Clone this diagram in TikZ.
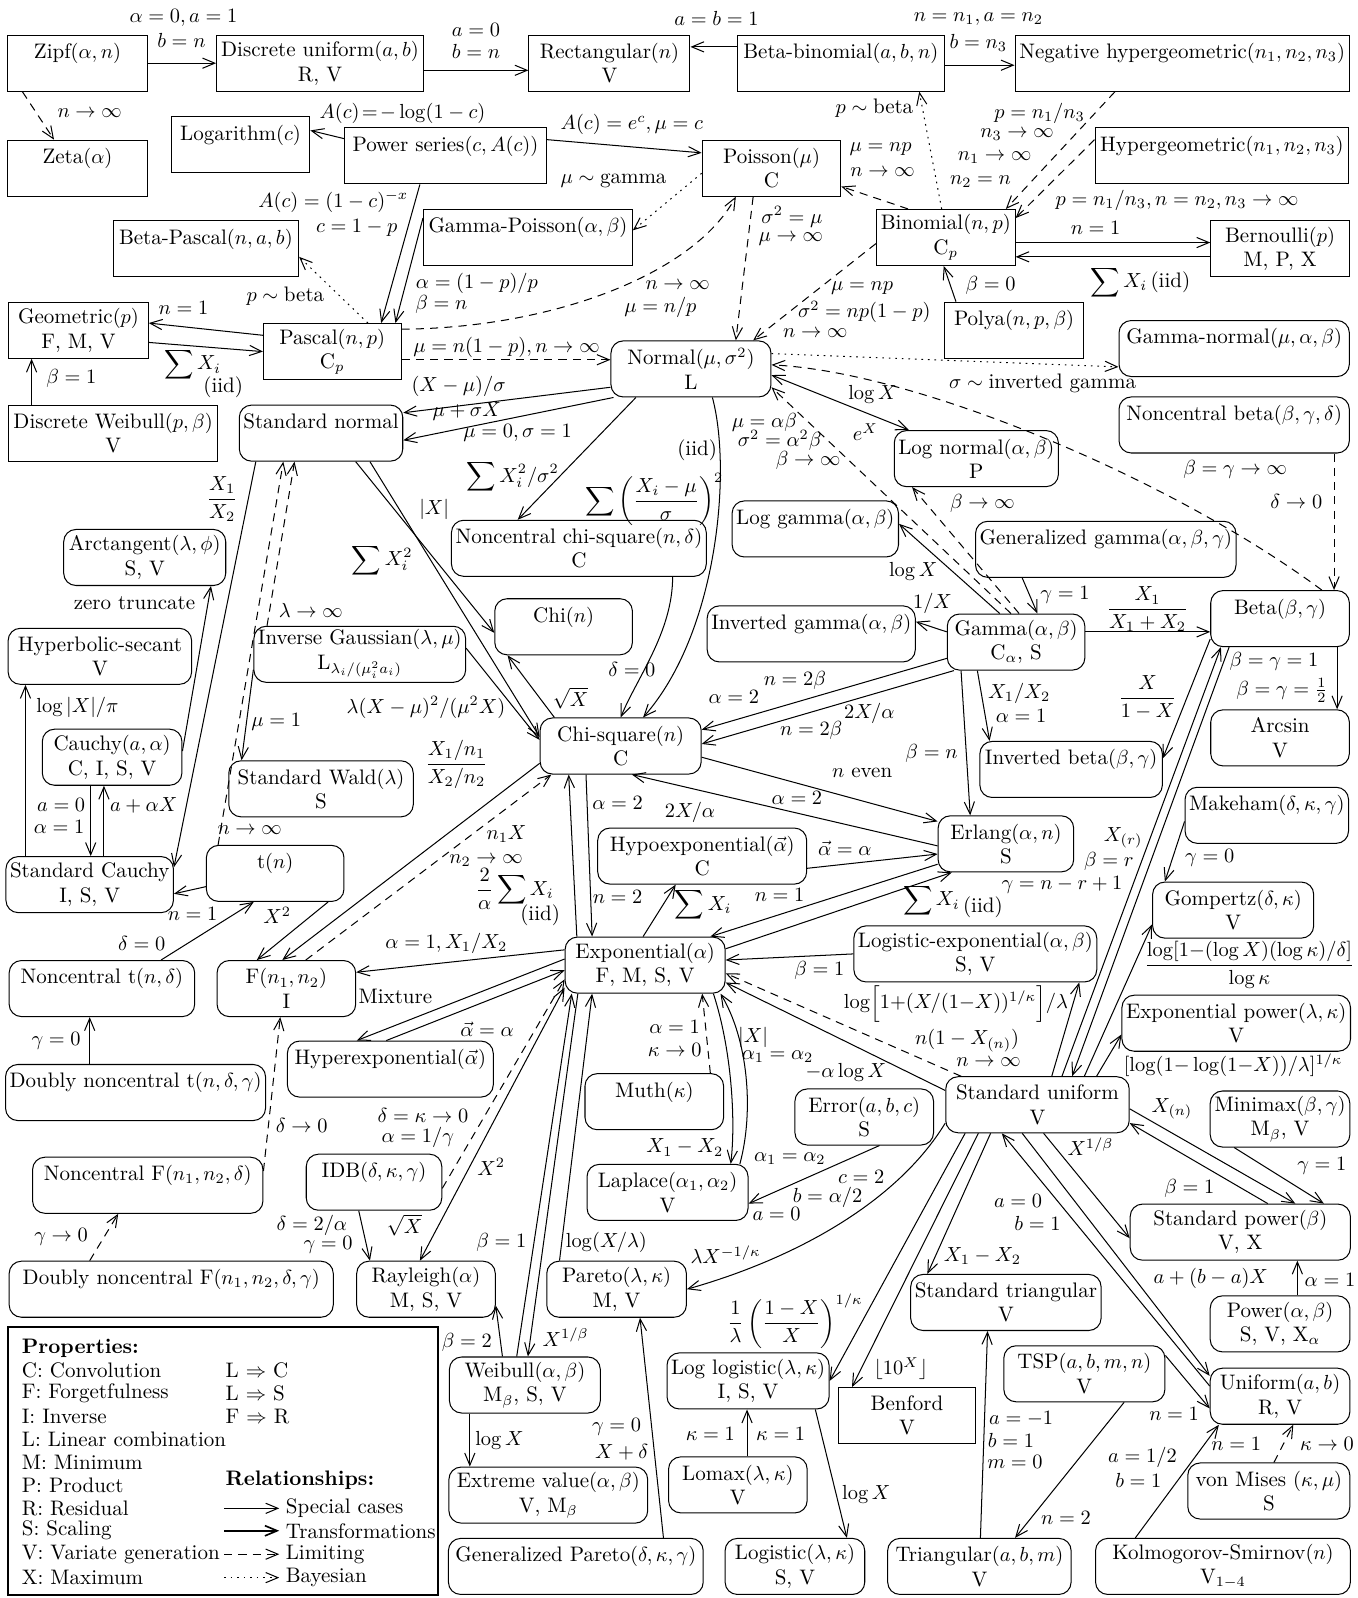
\documentclass[tikz,border=0pt]{standalone}
\usetikzlibrary{arrows.meta}
\tikzset{
  dbox/.style={draw, rectangle, minimum width=#1*0.5pt, minimum height=27.5pt,
    align=center, inner xsep=2pt, inner ysep=1pt},
  dbox/.default=136,
  cbox/.style={dbox=#1, rounded corners=6pt},
  cbox/.default=136,
  arr/.style={-{Straight Barb[length=6pt,width=5pt]}},
  arrs/.style={{Straight Barb[length=6pt,width=5pt]}-{Straight Barb[length=6pt,width=5pt]}},
  lim/.style={arr, dash pattern=on 4pt off 3pt},
  bay/.style={arr, dash pattern=on 0.8pt off 2.4pt},
  lbl/.style={inner sep=1pt},
}
\begin{document}
\begin{tikzpicture}[x=0.5pt, y=-0.5pt, line width=0.5pt, font=\fontsize{10.3}{12}\selectfont]
\useasboundingbox (0,0) rectangle (1332,1568);

% discrete distributions
\node[dbox=137] (zipf) at (76,62) {Zipf$(\alpha,n)$\\\mbox{}};
\node[dbox=203] (dunif) at (314,62) {Discrete uniform$(a,b)$\\R, V};
\node[dbox=158] (rect) at (598,62) {Rectangular$(n)$\\V};
\node[dbox=203] (betabin) at (825,62) {Beta-binomial$(a,b,n)$\\\mbox{}};
\node[dbox=328] (neghyp) at (1160,62) {Negative hypergeometric$(n_1,n_2,n_3)$\\\mbox{}};
\node[dbox=137] (zeta) at (76,165) {Zeta$(\alpha)$\\\mbox{}};
\node[dbox=136] (logar) at (236,142) {Logarithm$(c)$\\\mbox{}};
\node[dbox=198] (pseries) at (437,153) {Power series$(c,A(c))$\\\mbox{}};
\node[dbox] (poisson) at (757,165) {Poisson$(\mu)$\\C};
\node[dbox=249] (hypgeo) at (1199,153) {Hypergeometric$(n_1,n_2,n_3)$\\\mbox{}};
\node[dbox=182] (betapas) at (202,244) {Beta-Pascal$(n,a,b)$\\\mbox{}};
\node[dbox=205] (gampois) at (518,233) {Gamma-Poisson$(\alpha,\beta)$\\\mbox{}};
\node[dbox] (binom) at (928,233) {Binomial$(n,p)$\\C$_p$};
\node[dbox] (bern) at (1256,244) {Bernoulli$(p)$\\M, P, X};
\node[dbox=137] (geom) at (77,324) {Geometric$(p)$\\F, M, V};
\node[dbox=135] (pascal) at (326,345) {Pascal$(n,p)$\\C$_p$};
\node[dbox] (polya) at (995,324) {Polya$(n,p,\beta)$\\\mbox{}};
\node[dbox=205] (dweib) at (111,425) {Discrete Weibull$(p,\beta)$\\V};
\node[dbox=135] (benford) at (890,1389) {Benford\\V};

% continuous distributions
\node[cbox=157] (normal) at (678,362) {Normal$(\mu,\sigma^2)$\\L};
\node[cbox=226] (gamnorm) at (1211,342) {Gamma-normal$(\mu,\alpha,\beta)$\\\mbox{}};
\node[cbox=158] (stdnorm) at (315,425) {Standard normal\\\mbox{}};
\node[cbox=226] (ncbeta) at (1211,417) {Noncentral beta$(\beta,\gamma,\delta)$\\\mbox{}};
\node[cbox=158] (lognorm) at (958,450) {Log normal$(\alpha,\beta)$\\P};
\node[cbox=247] (ncchisq) at (568,538) {Noncentral chi-square$(n,\delta)$\\C};
\node[cbox=157] (loggam) at (800,519) {Log gamma$(\alpha,\beta)$\\\mbox{}};
\node[cbox=249] (gengam) at (1085,539) {Generalized gamma$(\alpha,\beta,\gamma)$\\\mbox{}};
\node[cbox=159] (arctan) at (142,547) {Arctangent$(\lambda,\phi)$\\S, V};
\node[cbox=180] (hypsec) at (98,644) {Hyperbolic-secant\\V};
\node[cbox=135] (chi) at (553,615) {Chi$(n)$\\\mbox{}};
\node[cbox=205] (invgauss) at (353,642) {Inverse Gaussian$(\lambda,\mu)$\\L$_{\lambda_i/(\mu_i^2a_i)}$};
\node[cbox=204] (invgam) at (796,622) {Inverted gamma$(\alpha,\beta)$\\\mbox{}};
\node[cbox=135] (gamma) at (997,630) {Gamma$(\alpha,\beta)$\\C$_\alpha$, S};
\node[cbox] (beta) at (1256,607) {Beta$(\beta,\gamma)$\\\mbox{}};
\node[cbox=137] (cauchy) at (110,743) {Cauchy$(a,\alpha)$\\C, I, S, V};
\node[cbox=158] (chisq) at (609,732) {Chi-square$(n)$\\C};
\node[cbox=181] (stdwald) at (315,774) {Standard Wald$(\lambda)$\\S};
\node[cbox=179] (invbeta) at (1051,755) {Inverted beta$(\beta,\gamma)$\\\mbox{}};
\node[cbox] (arcsin) at (1256,724) {Arcsin\\V};
\node[cbox=158] (makeham) at (1243,800) {Makeham$(\delta,\kappa,\gamma)$\\\mbox{}};
\node[cbox=133] (erlang) at (987,828) {Erlang$(\alpha,n)$\\S};
\node[cbox=205] (hypoexp) at (689,840) {Hypoexponential$(\vec{\alpha})$\\C};
\node[cbox=160] (stdcauchy) at (88,868) {Standard Cauchy\\I, S, V};
\node[cbox=135] (tdist) at (270,857) {t$(n)$\\\mbox{}};
\node[cbox=158] (gompertz) at (1210,893) {Gompertz$(\delta,\kappa)$\\V};
\node[cbox=157] (expo) at (633,947) {Exponential$(\alpha)$\\F, M, S, V};
\node[cbox=236] (logexp) at (957,936) {Logistic-exponential$(\alpha,\beta)$\\S, V};
\node[cbox=182] (nct) at (100,970) {Noncentral t$(n,\delta)$\\\mbox{}};
\node[cbox=136] (fdist) at (281,970) {F$(n_1,n_2)$\\I};
\node[cbox=222] (exppow) at (1213,1004) {Exponential power$(\lambda,\kappa)$\\V};
\node[cbox=202] (hyperexp) at (383,1049) {Hyperexponential$(\vec{\alpha})$\\\mbox{}};
\node[cbox=136] (muth) at (642,1081) {Muth$(\kappa)$\\\mbox{}};
\node[cbox=249] (dnct) at (133,1072) {Doubly noncentral t$(n,\delta,\gamma)$\\\mbox{}};
\node[cbox=180] (stdunif) at (1018,1084) {Standard uniform\\V};
\node[cbox=136] (error) at (848,1096) {Error$(a,b,c)$\\S};
\node[cbox=137] (minimax) at (1256,1098) {Minimax$(\beta,\gamma)$\\M$_\beta$, V};
\node[cbox=226] (ncf) at (145,1163) {Noncentral F$(n_1,n_2,\delta)$\\\mbox{}};
\node[cbox=133] (idb) at (367,1160) {IDB$(\delta,\kappa,\gamma)$\\\mbox{}};
\node[cbox=158] (laplace) at (655,1170) {Laplace$(\alpha_1,\alpha_2)$\\V};
\node[cbox=216] (stdpower) at (1217,1209) {Standard power$(\beta)$\\V, X};
\node[cbox=318] (dncf) at (168,1265) {Doubly noncentral F$(n_1,n_2,\delta,\gamma)$\\\mbox{}};
\node[cbox=136] (rayleigh) at (418,1265) {Rayleigh$(\alpha)$\\M, S, V};
\node[cbox=137] (pareto) at (605,1265) {Pareto$(\lambda,\kappa)$\\M, V};
\node[cbox=180] (stdtri) at (987,1278) {Standard triangular\\V};
\node[cbox=137] (power) at (1256,1299) {Power$(\alpha,\beta)$\\S, V, X$_\alpha$};
\node[cbox=148] (weibull) at (515,1359) {Weibull$(\alpha,\beta)$\\M$_\beta$, S, V};
\node[cbox=157] (loglogis) at (734,1355) {Log logistic$(\lambda,\kappa)$\\I, S, V};
\node[cbox=158] (tsp) at (1064,1348) {TSP$(a,b,m,n)$\\V};
\node[cbox=137] (unif) at (1256,1370) {Uniform$(a,b)$\\R, V};
\node[cbox=195] (extval) at (538,1467) {Extreme value$(\alpha,\beta)$\\V, M$_\beta$};
\node[cbox=136] (lomax) at (724,1457) {Lomax$(\lambda,\kappa)$\\V};
\node[cbox=159] (vonmises) at (1245,1463) {von Mises $(\kappa,\mu)$\\S};
\node[cbox=250] (genpareto) at (565,1537) {Generalized Pareto$(\delta,\kappa,\gamma)$\\\mbox{}};
\node[cbox=137] (logistic) at (780,1537) {Logistic$(\lambda,\kappa)$\\S, V};
\node[cbox=180] (triang) at (961,1537) {Triangular$(a,b,m)$\\V};
\node[cbox=250] (ks) at (1200,1537) {Kolmogorov-Smirnov$(n)$\\V$_{1-4}$};

% top rows
\draw[arr] (zipf.east) -- (dunif.west);
\draw[arr] ([yshift=-3.5pt]dunif.east) -- ([yshift=-3.5pt]rect.west);
\draw[arr] ([yshift=8pt]betabin.west) -- ([yshift=8pt]rect.east);
\draw[arr] ([yshift=-1pt]betabin.east) -- ([yshift=-1pt]neghyp.west);
\draw[lim] ([xshift=-27pt]zipf.south) -- ([xshift=-11.5pt]zeta.north);
\draw[arr] ([yshift=8.5pt]pseries.west) -- ([yshift=7pt]logar.east);
\draw[arr] ([yshift=8pt]pseries.east) -- ([yshift=7.5pt]poisson.west);
\draw[arr] ([xshift=-12.5pt]pseries.south) -- ([xshift=24pt]pascal.north);
\draw[arr] ([yshift=9.5pt]gampois.west) -- ([xshift=31pt]pascal.north);
\draw[bay] ([yshift=-2.5pt]poisson.west) -- ([yshift=3.5pt]gampois.east);
\draw[lim] ([xshift=-18.5pt]binom.north) -- ([yshift=-9pt]poisson.east);
\draw[bay] ([xshift=-2pt]binom.north) -- ([xshift=38.5pt]betabin.south);
\draw[lim] ([xshift=-33pt]neghyp.south) -- ([xshift=29.5pt]binom.north);
\draw[lim] ([yshift=8pt]hypgeo.west) -- ([yshift=9.5pt]binom.east);
\draw[arr] ([yshift=-2.5pt]binom.east) -- ([yshift=3pt]bern.west);
\draw[arr] ([yshift=-4pt]bern.west) -- ([yshift=-9.5pt]binom.east);
\draw[arr] ([xshift=-28.5pt]polya.north) -- ([xshift=-1pt]binom.south);
\draw[lim] ([yshift=-3pt]binom.west) -- ([xshift=30.5pt]normal.north);
\draw[lim] ([xshift=-9pt]poisson.south) -- ([xshift=22pt]normal.north);
\draw[lim] ([yshift=11pt]pascal.east) .. controls (540,322) and (680,270) .. ([xshift=-17.5pt]poisson.south);
\draw[lim] ([yshift=-4pt]pascal.east) -- ([yshift=4.5pt]normal.west);
\draw[arr] ([yshift=8pt]pascal.west) -- ([yshift=3.5pt]geom.east);
\draw[arr] ([yshift=-6pt]geom.east) -- (pascal.west);
\draw[arr] ([xshift=-40pt]dweib.north) -- ([xshift=-23pt]geom.south);
\draw[bay] ([xshift=17.5pt]pascal.north) -- ([yshift=-4pt]betapas.east);

% normal and friends
\draw[arr] ([yshift=-9pt]normal.west) -- ([yshift=10pt]stdnorm.east);
\draw[arr] ([xshift=-38pt]normal.south) -- ([yshift=-3.5pt]stdnorm.east);
\draw[arr] ([xshift=-27pt]normal.south) -- ([xshift=-30pt]ncchisq.north);
\draw[arr] ([xshift=10.5pt]normal.south) .. controls (718,460) and (705,620) .. ([xshift=11pt]chisq.north);
\draw[arr] ([xshift=46pt]ncchisq.south) .. controls (660,620) and (625,665) .. (chisq.north);
\draw[arr] ([xshift=17pt]stdnorm.south) -- ([yshift=-3pt]chi.west);
\draw[arr] ([xshift=24pt]stdnorm.south) -- ([yshift=4.5pt]chisq.west);
\draw[arr] ([xshift=-32.5pt]chisq.north) -- ([xshift=-27.5pt]chi.south);
\draw[arr] ([xshift=-32pt]stdnorm.south) -- ([yshift=8.5pt]stdcauchy.east);
\draw[arr] ([yshift=3pt]cauchy.east) -- ([xshift=32.5pt]arctan.south);
\draw[arr] ([xshift=-31.5pt]stdcauchy.north) -- ([xshift=-36.5pt]hypsec.south);
\draw[arr] ([xshift=-10.5pt]cauchy.south) -- ([xshift=0.5pt]stdcauchy.north);
\draw[arr] ([xshift=7pt]stdcauchy.north) -- ([xshift=-4pt]cauchy.south);
\draw[lim] ([xshift=-28pt]tdist.north) -- ([xshift=-18.5pt]stdnorm.south);
\draw[lim] ([xshift=-45.5pt]invgauss.north) -- ([xshift=-13pt]stdnorm.south);
\draw[arr] ([yshift=-7.5pt]invgauss.west) -- ([xshift=-39pt]stdwald.north);
\draw[arr] ([yshift=3pt]invgauss.east) -- ([yshift=3pt]chisq.west);
\draw[arr] ([yshift=-6.5pt]tdist.west) -- ([yshift=-4.5pt]stdcauchy.east);
\draw[arr] ([xshift=29pt]nct.north) -- ([xshift=-10.5pt]tdist.south);
\draw[arr] ([xshift=26pt]tdist.south) -- ([xshift=-14.5pt]fdist.north);
\draw[arr] ([xshift=-22.5pt]dnct.north) -- ([xshift=-6pt]nct.south);
\draw[arr] ([yshift=-8.5pt]chisq.west) -- ([xshift=-2pt]fdist.north);
\draw[lim] ([xshift=9.5pt]fdist.north) -- ([xshift=-34pt]chisq.south);
\draw[lim] ([yshift=7pt]ncf.east) -- ([xshift=-3pt]fdist.south);
\draw[lim] ([xshift=-40pt]dncf.north) -- ([xshift=-14.5pt]ncf.south);

% exponential
\draw[arr] ([yshift=7.5pt]expo.west) -- ([yshift=8pt]fdist.east);
\draw[arr] ([yshift=3pt]expo.west) -- ([xshift=-16.5pt]hyperexp.north);
\draw[arr] ([xshift=-2pt]hyperexp.north) -- ([yshift=-2.5pt]expo.west);
\draw[lim] ([yshift=-3pt]idb.east) -- ([yshift=-7pt]expo.west);
\draw[arr] ([xshift=-7.5pt]idb.south) -- ([xshift=-27.5pt]rayleigh.north);
\draw[arrs] ([xshift=-3pt]rayleigh.north) -- ([yshift=-11pt]expo.west);
\draw[arr] ([xshift=-11pt]weibull.north) -- ([yshift=-8pt]rayleigh.east);
\draw[arr] ([xshift=-4pt]weibull.north) -- ([xshift=-36pt]expo.south);
\draw[arr] ([xshift=-33pt]expo.south) -- ([xshift=1.5pt]weibull.north);
\draw[arr] ([xshift=-28pt]pareto.north) -- ([xshift=-26pt]expo.south);
\draw[lim] ([xshift=27.5pt]muth.north) -- ([xshift=28pt]expo.south);
\draw[arr] ([xshift=33.5pt]expo.south) .. controls (718,1030) and (722,1100) .. ([xshift=31pt]laplace.north);
\draw[arr] ([xshift=35.5pt]laplace.north) .. controls (740,1090) and (734,1020) .. ([xshift=37pt]expo.south);
\draw[arr] ([xshift=7.5pt]error.south) -- ([yshift=-5.5pt]laplace.east);
\draw[arr] ([yshift=7pt]stdunif.west) -- ([yshift=-8.5pt]expo.east);
\draw[lim] ([xshift=-37.5pt]stdunif.north) -- ([yshift=-4pt]expo.east);
\draw[arr] (logexp.west) -- ([yshift=2.5pt]expo.east);
\draw[arr] ([xshift=7pt]stdunif.north) -- ([xshift=51pt]logexp.south);
\draw[arr] ([yshift=-10pt]erlang.west) -- ([xshift=32pt]expo.north);
\draw[arr] ([yshift=8pt]expo.east) -- ([xshift=-26.5pt]erlang.south);
\draw[arr] ([xshift=-1pt]expo.north) -- ([xshift=-13pt]hypoexp.south);
\draw[arr] ([yshift=-6pt]hypoexp.east) -- ([yshift=-5pt]erlang.west);
\draw[arr] ([xshift=-33.5pt]expo.north) -- ([xshift=-25.5pt]chisq.south);
\draw[arr] ([xshift=-17pt]chisq.south) -- ([xshift=-26pt]expo.north);
\draw[arr] ([yshift=-5.5pt]chisq.east) -- ([yshift=11pt]erlang.west);
\draw[arr] ([yshift=-1pt]erlang.west) -- ([xshift=5.5pt]chisq.south);

% gamma and beta
\draw[arr] ([yshift=-8pt]gamma.west) -- ([yshift=8pt]chisq.east);
\draw[arr] ([xshift=-30.5pt]gamma.south) -- ([yshift=1pt]chisq.east);
\draw[arr] ([xshift=-27pt]gamma.south) -- ([xshift=-17.5pt]erlang.north);
\draw[arr] ([xshift=-19pt]gamma.south) -- ([xshift=-40pt]invbeta.north);
\draw[arr] ([yshift=5pt]gamma.west) -- ([yshift=6pt]invgam.east);
\draw[arr] ([yshift=5pt]gamma.east) -- ([yshift=-6.5pt]beta.west);
\draw[arr] ([yshift=-10pt]beta.west) -- ([yshift=5.5pt]invbeta.east);
\draw[arr] ([xshift=-41pt]gengam.south) -- ([xshift=10.5pt]gamma.north);
\draw[arr] ([xshift=-8pt]gamma.north) -- ([yshift=2.5pt]loggam.east);
\draw[lim] ([xshift=-2.5pt]gamma.north) -- ([yshift=-9pt]normal.east);
\draw[lim] ([xshift=1.5pt]gamma.north) -- ([xshift=-31.5pt]lognorm.south);
\draw[arrs] ([yshift=-3pt]normal.east) -- ([xshift=-33pt]lognorm.north);
\draw[bay] ([yshift=7.5pt]normal.east) -- ([yshift=-9pt]gamnorm.west);
\draw[lim] ([xshift=20.5pt]beta.north) .. controls (1150,470) and (900,365) .. ([yshift=2pt]normal.east);
\draw[lim] ([xshift=49pt]ncbeta.south) -- ([xshift=26.5pt]beta.north);
\draw[arr] ([xshift=28pt]beta.south) -- ([xshift=28pt]arcsin.north);
\draw[arr] ([xshift=-25pt]beta.south) -- ([xshift=17pt]stdunif.north);
\draw[arr] ([xshift=12pt]stdunif.north) -- ([xshift=-29pt]beta.south);
\draw[arr] ([xshift=23pt]stdunif.north) -- ([yshift=-7pt]gompertz.west);
\draw[arr] ([xshift=29pt]stdunif.north) -- ([yshift=-5.5pt]exppow.west);
\draw[arr] ([yshift=-3pt]makeham.west) -- ([xshift=-33.5pt]gompertz.north);

% standard uniform
\draw[arr] ([yshift=-2pt]stdunif.east) -- ([xshift=27pt]stdpower.north);
\draw[arr] ([xshift=13.5pt]stdpower.north) -- ([yshift=-9pt]stdunif.east);
\draw[arr] ([xshift=3pt]stdunif.south) -- ([yshift=-3pt]stdpower.west);
\draw[arr] ([xshift=-22.5pt]minimax.south) -- ([xshift=41pt]stdpower.north);
\draw[arr] ([xshift=8.5pt]power.north) -- ([xshift=28pt]stdpower.south);
\draw[arr] ([xshift=-7.5pt]stdunif.south) -- ([yshift=10pt]unif.west);
\draw[arr] ([yshift=5pt]unif.west) -- ([xshift=-17.5pt]stdunif.south);
\draw[arr] ([yshift=9pt]tsp.east) -- ([yshift=-6pt]unif.west);
\draw[arr] ([xshift=19.5pt]tsp.south) -- ([xshift=17.5pt]triang.north);
\draw[arr] ([xshift=-43pt]ks.north) -- ([xshift=-30pt]unif.south);
\draw[lim] ([xshift=2.5pt]vonmises.north) -- ([xshift=6.5pt]unif.south);
\draw[arr] ([xshift=0.5pt]triang.north) -- ([xshift=-9pt]stdtri.south);
\draw[arr] ([xshift=-23pt]stdunif.south) -- ([xshift=-38.5pt]stdtri.north);
\draw[arr] ([xshift=-29pt]stdunif.south) -- ([xshift=-27pt]benford.north);
\draw[arr] ([xshift=-35.5pt]stdunif.south) -- (loglogis.east);
\draw[arr] ([yshift=-9pt]stdunif.west) .. controls (880,1180) and (780,1235) .. (pareto.east);
\draw[arr] ([xshift=-27pt]weibull.south) -- ([xshift=-38.5pt]extval.north);
\draw[arr] ([xshift=43pt]genpareto.north) -- ([xshift=11.5pt]pareto.south);
\draw[arr] ([xshift=4.5pt]lomax.north) -- ([xshift=-0.5pt]loglogis.south);
\draw[arr] ([xshift=33pt]loglogis.south) -- ([xshift=25.5pt]logistic.north);

% labels
\node[lbl] (l1) at (180,18) {$\alpha=0, a=1$};
\node[lbl] (l2) at (178,40) {$b=n$};
\node[lbl] (l3) at (467,29) {$a=0$};
\node[lbl] (l4) at (467,50) {$b=n$};
\node[lbl] (l5) at (703,18) {$a=b=1$};
\node[lbl] (l6) at (960,19) {$n=n_1, a=n_2$};
\node[lbl] (l7) at (960,42) {$b=n_3$};
\node[lbl] (l8) at (88,111) {$n\to\infty$};
\node[lbl] (l9) at (395,111) {$A(c)\!=\!-\log(1-c)$};
\node[lbl] (l10) at (620,122) {$A(c)=e^c, \mu=c$};
\node[lbl] (l11) at (602,178) {$\mu\sim{}$gamma};
\node[lbl] (l12) at (864,146) {$\mu=np$};
\node[lbl] (l13) at (866,169) {$n\to\infty$};
\node[lbl] (l14) at (858,106) {$p\sim{}$beta};
\node[lbl] (l15) at (1020,111) {$p=n_1/n_3$};
\node[lbl] (l16) at (998,132) {$n_3\to\infty$};
\node[lbl] (l17) at (976,155) {$n_1\to\infty$};
\node[lbl] (l18) at (962,178) {$n_2=n$};
\node[lbl] (l19) at (1155,197) {$p=n_1/n_3, n=n_2, n_3\to\infty$};
\node[lbl] (l20) at (1075,224) {$n=1$};
\node[lbl] (l21) at (1119,277) {$\displaystyle\sum X_i\,$(iid)};
\node[lbl] (l22) at (972,280) {$\beta=0$};
\node[lbl] (l23) at (327,198) {$A(c)=(1-c)^{-x}$};
\node[lbl] (l24) at (350,224) {$c=1-p$};
\node[lbl] (l25) at (468,278) {$\alpha=(1-p)/p$};
\node[lbl] (l26) at (433,299) {$\beta=n$};
\node[lbl] (l27) at (280,291) {$p\sim{}$beta};
\node[lbl] (l28) at (665,280) {$n\to\infty$};
\node[lbl] (l29) at (648,302) {$\mu=n/p$};
\node[lbl] (l30) at (497,341) {$\mu=n(1-p), n\to\infty$};
\node[lbl] (l31) at (180,302) {$n=1$};
\node[lbl] (l32) at (189,358) {$\displaystyle\sum X_i$};
\node[lbl] (l33) at (219,380) {(iid)};
\node[lbl] (l34) at (70,371) {$\beta=1$};
\node[lbl] (l35) at (846,283) {$\mu=np$};
\node[lbl] (l36) at (848,306) {$\sigma^2=np(1-p)$};
\node[lbl] (l37) at (800,327) {$n\to\infty$};
\node[lbl] (l38) at (777,213) {$\sigma^2=\mu$};
\node[lbl] (l39) at (776,235) {$\mu\to\infty$};
\node[lbl] (l40) at (450,379) {$(X-\mu)/\sigma$};
\node[lbl] (l41) at (458,404) {$\mu+\sigma X$};
\node[lbl] (l42) at (508,425) {$\mu=0,\sigma=1$};
\node[lbl] (l43) at (503,468) {$\displaystyle\sum X_i^2/\sigma^2$};
\node[lbl] (l44) at (684,442) {(iid)};
\node[lbl] (l45) at (642,490) {$\displaystyle\sum\left(\frac{X_i-\mu}{\sigma}\right)^{2}$};
\node[lbl] (l46) at (620,657) {$\delta=0$};
\node[lbl] (l47) at (426,500) {$|X|$};
\node[lbl] (l48) at (375,550) {$\displaystyle\sum X_i^2$};
\node[lbl] (l49) at (560,685) {$\sqrt{X}$};
\node[lbl] (l50) at (218,490) {$\displaystyle\frac{X_1}{X_2}$};
\node[lbl] (l51) at (132,592) {zero truncate};
\node[lbl] (l52) at (76,694) {$\log|X|/\pi$};
\node[lbl] (l53) at (60,790) {$a=0$};
\node[lbl] (l54) at (58,811) {$\alpha=1$};
\node[lbl] (l55) at (141,790) {$a+\alpha X$};
\node[lbl] (l56) at (245,815) {$n\to\infty$};
\node[lbl] (l57) at (305,599) {$\lambda\to\infty$};
\node[lbl] (l58) at (271,708) {$\mu=1$};
\node[lbl] (l59) at (418,694) {$\lambda(X-\mu)^2/(\mu^2X)$};
\node[lbl] (l60) at (189,897) {$n=1$};
\node[lbl] (l61) at (139,926) {$\delta=0$};
\node[lbl] (l62) at (272,898) {$X^2$};
\node[lbl] (l63) at (55,1021) {$\gamma=0$};
\node[lbl] (l64) at (448,750) {$\displaystyle\frac{X_1/n_1}{X_2/n_2}$};
\node[lbl] (l65) at (497,818) {$n_1X$};
\node[lbl] (l66) at (477,844) {$n_2\to\infty$};
\node[lbl] (l67) at (296,1104) {$\delta\to0$};
\node[lbl] (l68) at (60,1214) {$\gamma\to0$};
\node[lbl] (l69) at (438,926) {$\alpha=1, X_1/X_2$};
\node[lbl] (l70) at (388,978) {Mixture};
\node[lbl] (l71) at (478,1010) {$\vec{\alpha}=\alpha$};
\node[lbl] (l72) at (415,1094) {$\delta=\kappa\to0$};
\node[lbl] (l73) at (410,1116) {$\alpha=1/\gamma$};
\node[lbl] (l74) at (306,1202) {$\delta=2/\alpha$};
\node[lbl] (l75) at (322,1222) {$\gamma=0$};
\node[lbl] (l76) at (482,1145) {$X^2$};
\node[lbl] (l77) at (397,1202) {$\sqrt{X}$};
\node[lbl] (l78) at (458,1317) {$\beta=2$};
\node[lbl] (l79) at (492,1219) {$\beta=1$};
\node[lbl] (l80) at (555,1312) {$X^{1/\beta}$};
\node[lbl] (l81) at (595,1219) {$\log(X/\lambda)$};
\node[lbl] (l82) at (662,1008) {$\alpha=1$};
\node[lbl] (l83) at (662,1030) {$\kappa\to0$};
\node[lbl] (l84) at (672,1126) {$X_1-X_2$};
\node[lbl] (l85) at (739,1018) {$|X|$};
\node[lbl] (l86) at (763,1037) {$\alpha_1=\alpha_2$};
\node[lbl] (l87) at (775,1137) {$\alpha_1=\alpha_2$};
\node[lbl] (l88) at (845,1155) {$c=2$};
\node[lbl] (l89) at (812,1175) {$b=\alpha/2$};
\node[lbl] (l90) at (762,1191) {$a=0$};
\node[lbl] (l91) at (830,1052) {$-\alpha\log X$};
\node[lbl] (l92) at (949,1021) {$n(1-X_{(n)})$};
\node[lbl] (l93) at (970,1042) {$n\to\infty$};
\node[lbl] (l94) at (804,952) {$\beta=1$};
\node[lbl] (l95) at (938,985) {$\log\Bigl[1{+}(X/(1{-}X))^{1/\kappa}\Bigr]/\lambda$};
\node[lbl] (l96) at (765,878) {$n=1$};
\node[lbl] (l97) at (935,884) {$\displaystyle\sum X_i$\,\raisebox{-3pt}{(iid)}};
\node[lbl] (l98) at (690,888) {$\displaystyle\sum X_i$};
\node[lbl] (l99) at (829,832) {$\vec{\alpha}=\alpha$};
\node[lbl] (l100) at (606,788) {$\alpha=2$};
\node[lbl] (l101) at (606,880) {$n=2$};
\node[lbl] (l102) at (505,872) {$\displaystyle\frac{2}{\alpha}\sum X_i$};
\node[lbl] (l103) at (530,898) {(iid)};
\node[lbl] (l104) at (846,758) {$n$ even};
\node[lbl] (l105) at (782,783) {$\alpha=2$};
\node[lbl] (l106) at (677,797) {$2X/\alpha$};
\node[lbl] (l107) at (720,684) {$\alpha=2$};
\node[lbl] (l108) at (780,668) {$n=2\beta$};
\node[lbl] (l109) at (853,700) {$2X/\alpha$};
\node[lbl] (l110) at (796,717) {$n=2\beta$};
\node[lbl] (l111) at (914,739) {$\beta=n$};
\node[lbl] (l112) at (1000,680) {$X_1/X_2$};
\node[lbl] (l113) at (1002,702) {$\alpha=1$};
\node[lbl] (l114) at (915,592) {$1/X$};
\node[lbl] (l115) at (1126,598) {$\displaystyle\frac{X_1}{X_1+X_2}$};
\node[lbl] (l116) at (1126,684) {$\displaystyle\frac{X}{1-X}$};
\node[lbl] (l117) at (1045,584) {$\gamma=1$};
\node[lbl] (l118) at (896,561) {$\log X$};
\node[lbl] (l119) at (750,414) {$\mu=\alpha\beta$};
\node[lbl] (l120) at (765,432) {$\sigma^2=\alpha^2\beta$};
\node[lbl] (l121) at (793,452) {$\beta\to\infty$};
\node[lbl] (l122) at (964,494) {$\beta\to\infty$};
\node[lbl] (l123) at (856,387) {$\log X$};
\node[lbl] (l124) at (849,424) {$e^X$};
\node[lbl] (l125) at (1023,376) {$\sigma\sim{}$inverted gamma};
\node[lbl] (l126) at (1212,461) {$\beta=\gamma\to\infty$};
\node[lbl] (l127) at (1272,492) {$\delta\to0$};
\node[lbl] (l128) at (1250,649) {$\beta=\gamma=1$};
\node[lbl] (l129) at (1258,677) {$\beta=\gamma=\frac12$};
\node[lbl] (l130) at (1102,822) {$X_{(r)}$};
\node[lbl] (l131) at (1088,845) {$\beta=r$};
\node[lbl] (l132) at (1042,868) {$\gamma=n-r+1$};
\node[lbl] (l133) at (1226,947) {$\displaystyle\frac{\log[1{-}(\log X)(\log\kappa)/\delta]}{\log\kappa}$};
\node[lbl] (l134) at (1210,1045) {$[\log(1{-}\log(1{-}X))/\lambda]^{1/\kappa}$};
\node[lbl] (l135) at (1187,842) {$\gamma=0$};
\node[lbl] (l136) at (1150,1088) {$X_{(n)}$};
\node[lbl] (l137) at (1167,1166) {$\beta=1$};
\node[lbl] (l138) at (1070,1125) {$X^{1/\beta}$};
\node[lbl] (l139) at (1297,1144) {$\gamma=1$};
\node[lbl] (l140) at (1305,1256) {$\alpha=1$};
\node[lbl] (l141) at (1188,1254) {$a+(b-a)X$};
\node[lbl] (l142) at (999,1178) {$a=0$};
\node[lbl] (l143) at (1018,1200) {$b=1$};
\node[lbl] (l144) at (1046,1489) {$n=2$};
\node[lbl] (l145) at (1152,1387) {$n=1$};
\node[lbl] (l146) at (1213,1417) {$n=1$};
\node[lbl] (l147) at (1121,1430) {$a=1/2$};
\node[lbl] (l148) at (1117,1453) {$b=1$};
\node[lbl] (l149) at (1302,1417) {$\kappa\to0$};
\node[lbl] (l150) at (1002,1392) {$a=-1$};
\node[lbl] (l151) at (992,1413) {$b=1$};
\node[lbl] (l152) at (996,1434) {$m=0$};
\node[lbl] (l153) at (964,1232) {$X_1-X_2$};
\node[lbl] (l154) at (884,1343) {$\lfloor 10^X\rfloor$};
\node[lbl] (l155) at (780,1296) {$\displaystyle\frac{1}{\lambda}\left(\frac{1-X}{X}\right)^{1/\kappa}$};
\node[lbl] (l156) at (712,1231) {$\lambda X^{-1/\kappa}$};
\node[lbl] (l157) at (490,1413) {$\log X$};
\node[lbl] (l158) at (605,1400) {$\gamma=0$};
\node[lbl] (l159) at (610,1425) {$X+\delta$};
\node[lbl] (l160) at (697,1407) {$\kappa=1$};
\node[lbl] (l161) at (766,1407) {$\kappa=1$};
\node[lbl] (l162) at (850,1466) {$\log X$};

% legend
\node[draw, line width=1.2pt, minimum width=211pt, minimum height=131.5pt, inner sep=0pt] (legend) at (219,1433.5) {};
\node[lbl, anchor=west] (pr0) at (19,1323) {\textbf{Properties:}};
\node[lbl, anchor=west] (pr1) at (19,1345) {C: Convolution};
\node[lbl, anchor=west] (pr2) at (19,1367) {F: Forgetfulness};
\node[lbl, anchor=west] (pr3) at (19,1390) {I: Inverse};
\node[lbl, anchor=west] (pr4) at (19,1412) {L: Linear combination};
\node[lbl, anchor=west] (pr5) at (19,1435) {M: Minimum};
\node[lbl, anchor=west] (pr6) at (19,1457) {P: Product};
\node[lbl, anchor=west] (pr7) at (19,1480) {R: Residual};
\node[lbl, anchor=west] (pr8) at (19,1502) {S: Scaling};
\node[lbl, anchor=west] (pr9) at (19,1525) {V: Variate generation};
\node[lbl, anchor=west] (pr10) at (19,1548) {X: Maximum};
\node[lbl, anchor=west] (im1) at (219,1345) {L $\Rightarrow$ C};
\node[lbl, anchor=west] (im2) at (219,1367) {L $\Rightarrow$ S};
\node[lbl, anchor=west] (im3) at (219,1390) {F $\Rightarrow$ R};
\node[lbl, anchor=west] (rel0) at (219,1452) {\textbf{Relationships:}};
\coordinate (ra1) at (220,1480); \coordinate (rb1) at (274,1480);
\coordinate (ra2) at (220,1502); \coordinate (rb2) at (274,1502);
\coordinate (ra3) at (220,1525); \coordinate (rb3) at (274,1525);
\coordinate (ra4) at (220,1548); \coordinate (rb4) at (274,1548);
\draw[arr] (ra1) -- (rb1);
\draw[arr, line width=0.8pt] (ra2) -- (rb2);
\draw[lim] (ra3) -- (rb3);
\draw[bay] (ra4) -- (rb4);
\node[lbl, anchor=west] (rl1) at (278,1480) {Special cases};
\node[lbl, anchor=west] (rl2) at (278,1502) {Transformations};
\node[lbl, anchor=west] (rl3) at (278,1525) {Limiting};
\node[lbl, anchor=west] (rl4) at (278,1548) {Bayesian};

\end{tikzpicture}
\end{document}
